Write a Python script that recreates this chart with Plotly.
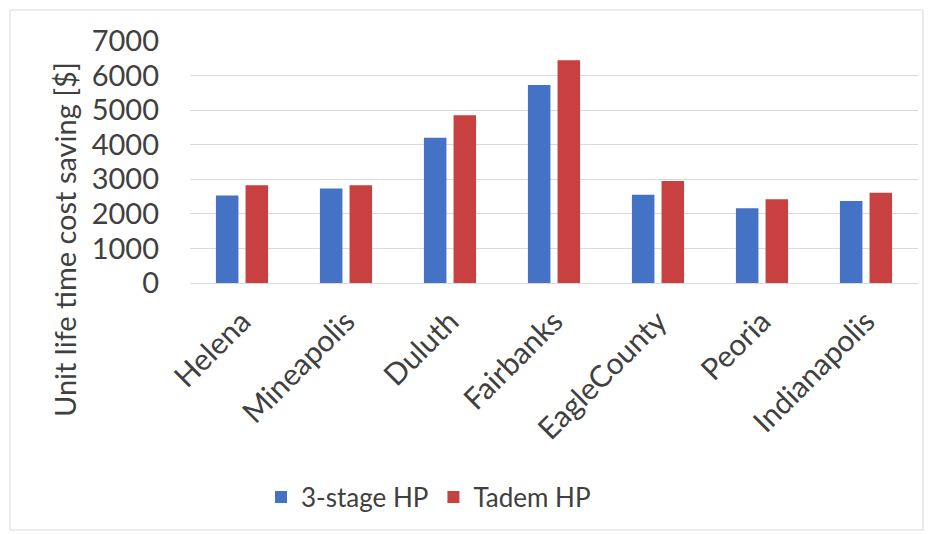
import plotly.graph_objects as go

# Lifetime cost savings per unit, by city
cities = ["Helena", "Mineapolis", "Duluth", "Fairbanks", "EagleCounty", "Peoria", "Indianapolis"]
three_stage_hp = [2530, 2730, 4200, 5730, 2550, 2160, 2370]
tandem_hp = [2830, 2830, 4850, 6440, 2950, 2420, 2610]
y_ticks = [0, 1000, 2000, 3000, 4000, 5000, 6000, 7000]

FONT = "Lato"
TEXT = "#404040"

fig = go.Figure()
fig.add_trace(go.Bar(name="3-stage HP", x=cities, y=three_stage_hp,
                     marker=dict(color="#4472C4", line=dict(width=0))))
fig.add_trace(go.Bar(name="Tadem HP", x=cities, y=tandem_hp,
                     marker=dict(color="#C94040", line=dict(width=0))))

W, H = 932, 534
L, R, T, B = 190, 14, 41, 251
plot_w = W - L - R
plot_h = H - T - B

fig.update_layout(
    width=W, height=H,
    margin=dict(l=L, r=R, t=T, b=B),
    paper_bgcolor="white", plot_bgcolor="white",
    barmode="group", bargap=0.43, bargroupgap=0.24,
    font=dict(family=FONT, color=TEXT),
    showlegend=True,
    legend=dict(orientation="h", x=(261 - L) / plot_w, xanchor="left",
                y=(T + plot_h - 497) / plot_h, yanchor="middle",
                font=dict(size=26, family=FONT, color=TEXT),
                itemsizing="constant", traceorder="normal",
                bgcolor="rgba(0,0,0,0)"),
    xaxis=dict(tickangle=-45, tickfont=dict(size=30, family=FONT, color=TEXT),
               showgrid=False, showline=False, ticks="", ticklabelstandoff=14),
    yaxis=dict(range=[0, 7000], tickvals=y_ticks,
               tickfont=dict(size=29, family=FONT, color=TEXT),
               showgrid=True, gridcolor="#d9d9d9", gridwidth=1,
               zeroline=True, zerolinecolor="#d9d9d9", zerolinewidth=1,
               showline=False, ticks="", ticklabelstandoff=30),
    shapes=[dict(type="rect", xref="paper", yref="paper",
                 x0=(10 - L) / plot_w, x1=(923 - L) / plot_w,
                 y0=(T + plot_h - 530) / plot_h, y1=(T + plot_h - 10) / plot_h,
                 line=dict(color="#d9d9d9", width=1), fillcolor="rgba(0,0,0,0)",
                 layer="below")],
    annotations=[dict(text="Unit life time cost saving [$]", textangle=-90,
                      xref="paper", yref="paper",
                      x=(64 - L) / plot_w, y=(T + plot_h - 240) / plot_h,
                      xanchor="center", yanchor="middle", showarrow=False,
                      font=dict(size=29, family=FONT, color=TEXT))],
)

fig.write_html("out.html")
